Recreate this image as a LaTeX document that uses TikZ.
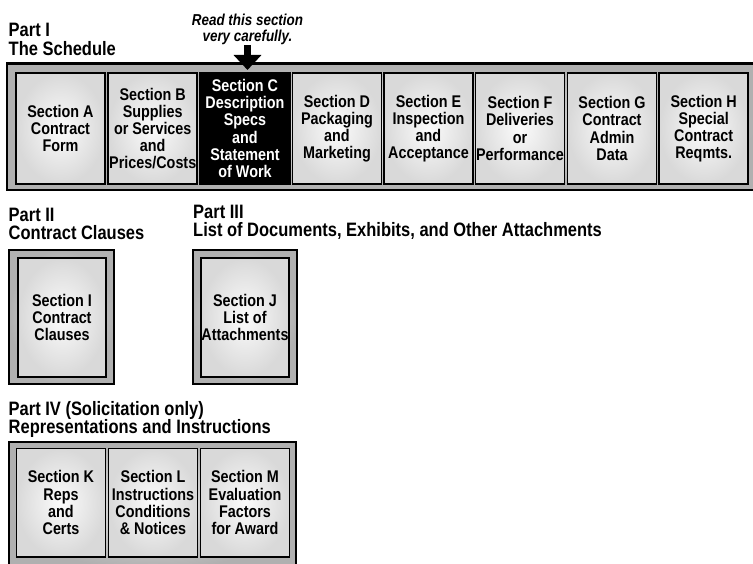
\documentclass[tikz,border=0pt]{standalone}
\usepackage{fontspec}
\setmainfont[FakeStretch=0.85]{Liberation Sans}
\usetikzlibrary{arrows.meta}

\newcommand\secfont{\bfseries\fontsize{16.9}{17.2}\selectfont}
\newcommand\headfont{\bfseries\fontsize{19.4}{19.5}\selectfont}
\newcommand\notefont{\bfseries\itshape\fontsize{15.8}{16.2}\selectfont}

\tikzset{
  framebox/.style={rectangle, draw=black, line width=2.2pt, inner sep=0pt,
    inner color=gray!22, outer color=gray!62},
  boxbase/.style={rectangle, draw=black, line width=1.8pt, inner sep=0pt,
    align=center, font=\secfont, minimum width=89pt},
  secbox/.style={boxbase, inner color=gray!3, outer color=gray!30},
  darkbox/.style={boxbase, fill=black, text=white},
  heading/.style={anchor=base west, font=\headfont, inner sep=0pt},
}

\begin{document}
\begin{tikzpicture}[x=1pt, y=-1pt]
\useasboundingbox (0,0) rectangle (753,564);

% ---------- Part I: the schedule ----------
\node[heading] (p1a) at (8.5,37) {Part I};
\node[heading] (p1b) at (8.5,56) {The Schedule};

\node[framebox, minimum width=752pt, minimum height=126.8pt] (f1) at (383,127) {};

\begin{scope}[every node/.append style={minimum height=111.2pt}]
\node[secbox]  (A) at (60.5,128.5)  {Section A\\Contract\\Form};
\node[secbox]  (B) at (152.75,128.5) {Section B\\Supplies\\or Services\\and\\Prices/Costs};
\node[darkbox, minimum width=91pt] (C) at (245,128.5) {Section C\\Description\\Specs\\and\\Statement\\of Work};
\node[secbox]  (D) at (337,128.5)   {Section D\\Packaging\\and\\Marketing};
\node[secbox]  (E) at (428.5,128.5) {Section E\\Inspection\\and\\Acceptance};
\node[secbox]  (F) at (520,128.5)   {Section F\\Deliveries\\or\\Performance};
\node[secbox]  (G) at (612,128.5)   {Section G\\Contract\\Admin\\Data};
\node[secbox]  (H) at (703.7,128.5) {Section H\\Special\\Contract\\Reqmts.};
\end{scope}

% note and pointer onto section C
\node[font=\notefont, align=center, inner sep=0pt, anchor=south] (note) at (247.5,45)
  {Read this section\\very carefully.};
\coordinate (ctip) at (247.5,70);
\draw[line width=7pt, -{Triangle[width=27pt, length=15pt]}] (note.south) -- (ctip);

% ---------- Part II: contract clauses ----------
\node[heading] (p2a) at (8.5,222) {Part II};
\node[heading] (p2b) at (8.5,240) {Contract Clauses};
\node[framebox, minimum width=105pt, minimum height=134pt] (f2) at (61.5,317) {};
\node[secbox, minimum width=88pt, minimum height=119pt] (I) at (62,317.5)
  {Section I\\Contract\\Clauses};

% ---------- Part III: attachments ----------
\node[heading] (p3a) at (193,219) {Part III};
\node[heading] (p3b) at (193,237) {List of Documents, Exhibits, and Other Attachments};
\node[framebox, minimum width=104pt, minimum height=134pt] (f3) at (245,317) {};
\node[secbox, minimum width=88pt, minimum height=119pt] (J) at (245,317.5)
  {Section J\\List of\\Attachments};

% ---------- Part IV: representations and instructions ----------
\node[heading] (p4a) at (8.5,415) {Part IV (Solicitation only)};
\node[heading] (p4b) at (8.5,433) {Representations and Instructions};
\node[framebox, minimum width=287pt, minimum height=128pt] (f4) at (152.5,506) {};

\begin{scope}[every node/.append style={minimum height=108.7pt}]
\node[secbox] (K) at (61,502.75)  {Section K\\Reps\\and\\Certs};
\node[secbox] (L) at (153,502.75) {Section L\\Instructions\\Conditions\\\& Notices};
\node[secbox] (M) at (245,502.75) {Section M\\Evaluation\\Factors\\for Award};
\end{scope}
\end{tikzpicture}
\end{document}
